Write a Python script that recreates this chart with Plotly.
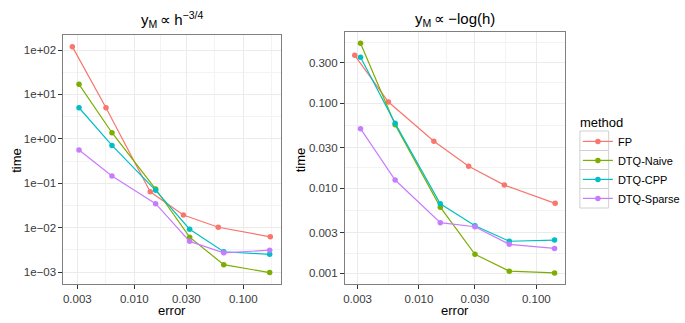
import plotly.graph_objects as go
import math

# ---------------- data ----------------
methods = ["FP", "DTQ-Naive", "DTQ-CPP", "DTQ-Sparse"]
colors = ["#F8766D", "#7CAE00", "#00BFC4", "#C77CFF"]

# left panel: y_M ∝ h^{-3/4}
left_err_fp = [0.0027, 0.0055, 0.0140, 0.0282, 0.0590, 0.177]
left_err_dtq = [0.00311, 0.00624, 0.0157, 0.0322, 0.0662, 0.1747]
left_time_fp = [119, 5.0, 0.064, 0.0192, 0.0102, 0.0062]
left_time_naive = [16.9, 1.37, 0.074, 0.0061, 0.00146, 0.00097]
left_time_cpp = [5.0, 0.71, 0.069, 0.0092, 0.00286, 0.0025]
left_time_sparse = [0.56, 0.145, 0.0346, 0.0049, 0.0027, 0.0031]

# right panel: y_M ∝ -log(h)
right_err_fp = [0.00284, 0.0055, 0.0134, 0.0265, 0.0534, 0.1445]
right_err_dtq = [0.00318, 0.00627, 0.0152, 0.0300, 0.0588, 0.1428]
right_time_fp = [0.366, 0.1035, 0.0357, 0.0181, 0.0109, 0.00665]
right_time_naive = [0.507, 0.056, 0.0060, 0.00167, 0.00106, 0.00101]
right_time_cpp = [0.347, 0.058, 0.00658, 0.00362, 0.00238, 0.00246]
right_time_sparse = [0.0502, 0.0125, 0.00394, 0.00353, 0.00219, 0.00196]

x_ticks = [0.003, 0.01, 0.03, 0.1]
x_ticktext = ["0.003", "0.010", "0.030", "0.100"]
left_y_ticks = [1e-3, 1e-2, 1e-1, 1e0, 1e1, 1e2]
left_y_ticktext = ["1e\u221203", "1e\u221202", "1e\u221201", "1e+00", "1e+01", "1e+02"]
right_y_ticks = [0.001, 0.003, 0.01, 0.03, 0.1, 0.3]
right_y_ticktext = ["0.001", "0.003", "0.010", "0.030", "0.100", "0.300"]

# ---------------- layout helpers ----------------
W, H = 685, 323
def px(x):
    return x / W
def py(y):
    return (H - y) / H

FONT = "Liberation Sans, Arial, Helvetica, sans-serif"
GRID = "#EBEBEB"

def minor_breaks(majors, lo, hi):
    lg = [math.log10(v) for v in majors]
    ext = [lg[0] - (lg[1] - lg[0])] + lg + [lg[-1] + (lg[-1] - lg[-2])]
    mids = [(a + b) / 2 for a, b in zip(ext[:-1], ext[1:])]
    return [10 ** m for m in mids if lo < m < hi]

fig = go.Figure()

left_series = [
    (left_err_fp, left_time_fp),
    (left_err_dtq, left_time_naive),
    (left_err_dtq, left_time_cpp),
    (left_err_dtq, left_time_sparse),
]
right_series = [
    (right_err_fp, right_time_fp),
    (right_err_dtq, right_time_naive),
    (right_err_dtq, right_time_cpp),
    (right_err_dtq, right_time_sparse),
]

for i, (m, c) in enumerate(zip(methods, colors)):
    xs, ys = left_series[i]
    fig.add_trace(go.Scatter(x=xs, y=ys, mode="lines+markers", name=m,
                             legendgroup=m, showlegend=True,
                             line=dict(color=c, width=1.2),
                             marker=dict(color=c, size=5.5),
                             xaxis="x", yaxis="y"))
for i, (m, c) in enumerate(zip(methods, colors)):
    xs, ys = right_series[i]
    fig.add_trace(go.Scatter(x=xs, y=ys, mode="lines+markers", name=m,
                             legendgroup=m, showlegend=False,
                             line=dict(color=c, width=1.2),
                             marker=dict(color=c, size=5.5),
                             xaxis="x2", yaxis="y2"))

def axis(domain, rng, tickvals, ticktext, anchor):
    return dict(
        type="log", domain=domain, range=rng, anchor=anchor,
        tickmode="array", tickvals=tickvals, ticktext=ticktext,
        showgrid=True, gridcolor=GRID, gridwidth=1,
        ticks="outside", ticklen=4, tickwidth=1, tickcolor="#333333",
        tickfont=dict(family=FONT, size=11.5, color="#3a3a3a"),
        showline=True, linecolor="#7F7F7F", linewidth=1, mirror=True,
        zeroline=False,
        minor=dict(tickvals=minor_breaks(tickvals, rng[0], rng[1]),
                   showgrid=True, gridcolor="#F3F3F3", gridwidth=1, ticklen=0),
    )

lx = [-2.650, -0.658]
ly = [-3.270, 2.338]
rx = [-2.630, -0.756]
ry = [-3.126, -0.162]

fig.update_layout(
    width=W, height=H,
    margin=dict(l=0, r=0, t=0, b=0),
    paper_bgcolor="white", plot_bgcolor="white",
    font=dict(family=FONT, color="#000000"),
    xaxis=axis([px(62), px(281)], lx, x_ticks, x_ticktext, "y"),
    yaxis=axis([py(284), py(35)], ly, left_y_ticks, left_y_ticktext, "x"),
    xaxis2=axis([px(346), px(568)], rx, x_ticks, x_ticktext, "y2"),
    yaxis2=axis([py(284), py(32)], ry, right_y_ticks, right_y_ticktext, "x2"),
    legend=dict(
        x=px(581), y=py(110), xanchor="left", yanchor="top",
        title=dict(text="method", font=dict(family=FONT, size=13, color="#000")),
        font=dict(family=FONT, size=11, color="#000"),
        bgcolor="rgba(0,0,0,0)", tracegroupgap=0,
        itemwidth=30,
    ),
    showlegend=True,
)

annotations = [
    dict(text="y<sub>M</sub>\u2009\u221d\u2009h<sup>\u22123/4</sup>", x=px(171.5), y=py(19),
         font=dict(family=FONT, size=15, color="#000")),
    dict(text="y<sub>M</sub>\u2009\u221d\u2009\u2212log(h)", x=px(457), y=py(19),
         font=dict(family=FONT, size=15, color="#000")),
    dict(text="error", x=px(171.5), y=py(310), font=dict(family=FONT, size=13, color="#000")),
    dict(text="error", x=px(457), y=py(310), font=dict(family=FONT, size=13, color="#000")),
    dict(text="time", x=px(15), y=py(160), textangle=-90, font=dict(family=FONT, size=13, color="#000")),
    dict(text="time", x=px(302), y=py(160), textangle=-90, font=dict(family=FONT, size=13, color="#000")),
]
for a in annotations:
    a.update(xref="paper", yref="paper", showarrow=False, xanchor="center", yanchor="middle")
fig.update_layout(annotations=annotations)

# grey boxes around legend keys (ggplot theme_bw legend.key)
key_edges = [131, 150.5, 169.5, 188.5, 208]
shapes = []
for top, bot in zip(key_edges[:-1], key_edges[1:]):
    shapes.append(dict(type="rect", xref="paper", yref="paper",
                       x0=px(583), x1=px(612), y0=py(bot), y1=py(top),
                       line=dict(color="#D0D0D0", width=1), fillcolor="rgba(0,0,0,0)",
                       layer="below"))
fig.update_layout(shapes=shapes)

fig.write_html("out.html", config={"displayModeBar": False},
               post_script="document.body.style.margin='0';")
